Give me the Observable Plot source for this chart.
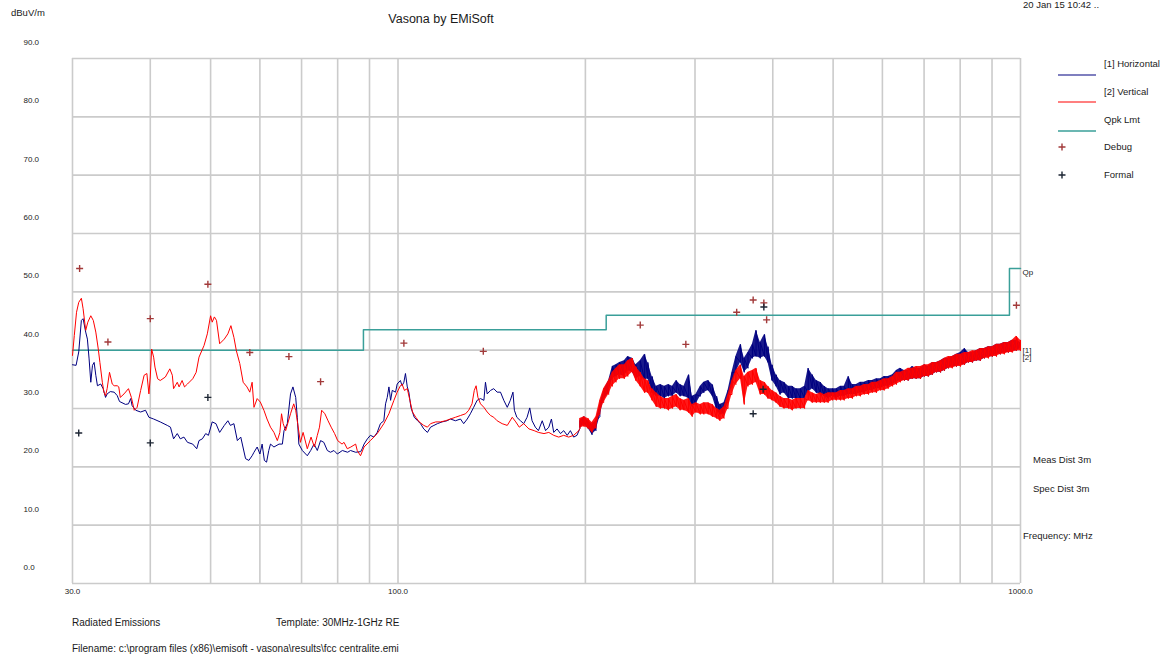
<!DOCTYPE html>
<html><head><meta charset="utf-8">
<script src="https://cdn.jsdelivr.net/npm/d3@7"></script>
<script src="https://cdn.jsdelivr.net/npm/@observablehq/plot@0.6"></script>
<style>html,body{margin:0;padding:0;background:#fff;} #chart{width:1176px;height:657px;overflow:hidden}</style>
</head><body><div id="chart"></div>
<script>
// ---- axes ----
const yTicks = [0, 10, 20, 30, 40, 50, 60, 70, 80, 90];
const xGrid = [30, 40, 50, 60, 70, 80, 90, 100, 200, 300, 400, 500, 600, 700, 800, 900, 1000];
const xLabels = [30, 100, 1000];

// ---- Qpk limit (MHz, dBuV/m) ----
const limitFreq = [30, 88, 216, 960, 1000];
const limitLevel = [40, 43.5, 46, 54, 54];

// ---- [1] Horizontal trace, 30-196 MHz: [MHz, dBuV/m] ----
const horizontalTrace = [[30.0,37.5],[30.4,37.4],[30.7,39.7],[31.0,45.1],[31.2,45.4],[31.5,43.1],[31.7,41.9],[31.9,38.5],[32.1,34.5],[32.3,37.4],[32.5,37.9],[32.7,35.7],[32.9,33.9],[33.3,34.2],[33.6,33.4],[33.9,31.9],[34.1,32.5],[34.5,32.9],[35.0,32.8],[35.4,32.2],[35.7,31.2],[36.5,30.7],[36.9,30.8],[37.2,31.7],[37.4,30.5],[37.9,29.7],[38.6,29.4],[39.3,29.7],[39.8,28.5],[40.5,28.2],[41.5,27.7],[42.6,27.1],[43.1,26.8],[43.6,24.8],[44.2,25.7],[44.7,24.8],[45.3,25.1],[45.9,24.2],[46.8,23.9],[47.5,23.1],[47.9,24.5],[48.5,24.8],[49.1,25.7],[49.6,25.4],[50.3,27.7],[51.0,27.4],[51.7,25.9],[52.6,27.1],[53.3,27.9],[53.8,27.1],[54.5,27.4],[55.2,24.5],[55.9,25.1],[56.9,21.4],[57.6,21.1],[58.3,21.9],[58.7,22.5],[59.4,23.4],[60.0,22.2],[60.5,23.9],[61.0,21.1],[61.5,20.8],[62.0,22.8],[62.4,23.9],[63.2,23.4],[64.4,23.9],[65.2,23.9],[65.6,26.2],[66.4,27.4],[67.2,32.5],[67.8,33.7],[68.5,31.9],[68.9,28.5],[69.3,23.9],[70.2,22.8],[71.5,21.9],[72.4,22.8],[73.3,23.9],[74.2,22.8],[75.1,24.5],[76.0,24.2],[77.0,22.8],[77.9,22.5],[78.9,22.8],[79.9,22.2],[81.4,22.8],[83.0,22.5],[83.9,22.8],[85.5,22.5],[87.1,22.6],[87.6,23.1],[88.2,23.9],[89.3,24.8],[90.3,25.4],[91.5,25.1],[92.6,25.9],[93.7,27.4],[94.9,27.9],[95.5,30.8],[96.1,31.9],[96.7,33.7],[97.3,31.4],[97.9,33.1],[99.1,32.8],[99.7,34.2],[100.9,34.8],[101.5,33.9],[102.2,34.5],[102.8,36.0],[103.5,33.7],[104.1,32.8],[104.9,30.2],[106.2,28.5],[107.5,27.9],[108.7,27.4],[110.0,26.5],[111.5,25.9],[112.8,26.8],[114.2,27.1],[115.7,27.4],[117.7,27.7],[119.9,27.9],[121.4,28.2],[123.7,27.9],[126.0,28.2],[127.5,27.4],[129.2,28.2],[130.7,29.1],[132.3,30.2],[134.0,31.4],[135.7,31.7],[137.4,31.4],[138.2,34.5],[139.1,32.5],[140.8,33.1],[142.5,33.4],[144.3,32.8],[146.1,32.8],[147.9,31.4],[149.8,30.2],[151.5,31.4],[153.0,32.8],[153.8,29.7],[155.2,28.5],[157.3,27.9],[159.2,27.4],[161.2,28.5],[162.8,30.1],[164.2,27.9],[166.2,26.8],[168.1,26.2],[170.5,27.9],[172.6,26.2],[174.7,26.8],[176.4,28.2],[177.9,25.9],[180.1,26.5],[182.4,25.7],[184.6,26.2],[187.0,25.4],[189.2,26.2],[191.5,25.1],[193.9,25.4]];

// ---- [2] Vertical trace, 30-196 MHz: [MHz, dBuV/m] ----
const verticalTrace = [[30.0,39.1],[30.2,42.5],[30.45,46.5],[30.7,48.2],[31.0,48.9],[31.2,47.1],[31.5,43.4],[31.75,44.8],[32.1,45.9],[32.4,45.1],[32.7,43.1],[33.0,40.2],[33.2,37.9],[33.5,34.5],[33.7,32.8],[33.9,32.2],[34.1,33.4],[34.4,36.2],[34.75,34.2],[35.0,33.9],[35.4,33.9],[35.6,33.7],[35.8,31.9],[36.3,32.5],[36.9,33.4],[37.3,31.9],[37.7,29.7],[38.1,30.2],[38.6,33.1],[39.1,35.7],[39.5,36.0],[39.8,32.5],[40.0,35.4],[40.2,40.2],[40.5,38.8],[40.7,37.1],[41.1,35.1],[41.5,34.8],[42.3,35.4],[43.0,36.8],[43.4,35.7],[43.6,33.4],[44.2,34.5],[44.5,33.7],[45.0,34.8],[45.4,33.7],[45.9,34.2],[46.8,35.1],[47.4,36.2],[47.9,38.8],[48.8,40.8],[49.4,42.8],[50.0,45.9],[50.3,44.8],[50.7,45.7],[51.1,45.1],[51.7,41.1],[52.6,41.9],[53.3,42.8],[53.9,44.2],[54.5,42.2],[55.0,39.9],[55.7,37.7],[56.4,34.5],[57.2,33.7],[57.8,32.8],[58.3,34.5],[58.7,30.2],[59.4,31.7],[60.1,31.1],[60.9,29.7],[61.6,28.2],[62.4,26.8],[63.2,25.9],[64.0,24.5],[64.6,25.9],[65.0,29.1],[65.4,27.4],[66.0,26.2],[67.2,29.1],[68.0,30.8],[68.5,29.7],[69.0,27.4],[69.7,24.2],[70.4,25.9],[71.5,23.1],[72.5,25.1],[73.4,23.4],[74.2,25.4],[74.8,26.8],[75.4,29.7],[76.3,29.1],[77.2,27.9],[78.1,26.8],[79.1,25.7],[80.0,24.5],[81.3,23.9],[81.9,24.2],[82.9,23.1],[84.0,23.4],[85.5,23.9],[86.0,22.8],[87.05,21.9],[88.2,23.4],[90.3,24.5],[92.6,25.7],[94.9,27.4],[96.7,29.1],[98.5,31.4],[99.7,32.8],[100.9,33.9],[101.5,34.2],[102.4,33.1],[103.5,33.4],[104.5,31.4],[105.5,29.4],[106.8,28.5],[108.2,27.7],[110.0,27.1],[111.5,26.8],[112.8,27.4],[115.0,27.7],[117.0,27.7],[119.2,27.9],[121.4,28.2],[123.7,28.5],[126.0,28.8],[128.4,29.1],[129.9,29.7],[131.5,30.8],[132.6,33.1],[133.5,33.9],[134.4,31.9],[135.7,30.8],[137.4,30.2],[139.1,29.4],[140.8,28.8],[142.5,28.5],[144.3,27.9],[147.0,27.4],[149.8,27.1],[152.6,28.5],[154.6,27.7],[156.6,26.8],[159.2,27.4],[162.3,26.5],[165.5,26.2],[168.1,25.9],[171.6,25.7],[174.7,25.9],[177.9,25.4],[181.2,25.1],[184.6,25.4],[188.0,25.1],[191.5,25.4],[195.2,26.2]];

// ---- 196-1000 MHz: noisy band, low/high envelope per frequency ----
const noisyFreq = [196,199,202,205,208,211,214,218,221,224,227,231,234,238,241,245,249,252,256,260,264,268,272,276,280,284,288,293,297,301,306,310,315,320,325,329,334,339,344,349,355,360,365,371,376,382,388,393,399,405,411,417,424,430,436,443,450,456,463,470,477,484,491,499,506,514,521,529,537,545,553,561,570,578,587,596,604,613,623,632,641,651,660,670,680,691,701,711,722,733,744,755,766,777,789,801,813,825,837,849,862,875,888,901,915,928,942,956,970,985,1000];
const horLow = [26.6,27.3,26.6,25.5,26.2,28.6,31.4,32.7,35.1,35.5,35.8,35.5,36.5,36.2,35.1,35.5,34.8,35.1,32.7,32.1,32.1,31.7,32.1,32.1,32.7,32.1,32.1,31.7,30.3,30.7,32.1,32.7,33.1,32.1,29.7,29.0,29.0,31.0,33.8,36.2,37.9,36.2,36.9,38.6,38.9,38.6,38.9,37.9,34.8,33.8,32.4,32.7,31.7,31.7,31.7,31.7,31.7,32.7,33.4,32.7,32.4,32.1,31.7,32.1,31.7,32.1,32.1,32.4,32.4,32.4,32.7,32.7,33.1,33.1,33.4,33.4,33.8,33.8,34.1,34.5,34.8,34.8,34.8,35.1,35.1,35.1,35.5,35.5,35.8,36.2,36.2,36.5,36.9,37.2,37.2,37.5,37.5,37.9,37.9,38.2,38.2,38.6,38.9,38.9,39.3,39.3,39.6,39.6,39.9,39.9,40.3];
const horHigh = [27.9,28.6,27.9,27.3,27.9,30.7,33.1,34.8,37.2,37.5,37.9,38.2,38.9,38.6,37.5,38.2,39.3,37.9,35.5,33.8,34.1,33.8,34.1,33.8,34.8,34.1,33.8,35.8,32.1,32.4,33.8,34.5,34.8,34.1,32.1,30.7,31.0,33.1,36.2,38.9,41.0,38.6,39.6,41.0,43.4,41.3,42.7,40.6,37.5,35.8,34.8,34.5,33.8,33.8,33.4,33.4,33.8,36.9,35.8,34.8,34.5,33.8,33.4,33.4,33.4,33.8,33.8,35.5,34.1,34.1,34.5,34.5,34.8,34.8,35.1,35.1,35.5,35.5,35.8,36.5,36.9,36.5,36.5,37.2,36.9,36.9,37.5,37.2,37.9,37.9,38.2,38.6,38.6,38.9,39.3,39.6,40.3,39.6,39.6,39.9,40.3,40.3,40.6,40.6,41.0,41.0,41.3,41.3,41.7,41.7,41.3];
const verLow = [26.6,26.9,26.6,25.9,26.6,29.0,31.0,32.4,33.8,34.5,35.1,35.1,35.5,36.2,34.8,33.8,32.7,32.7,31.4,30.3,30.0,30.0,29.7,30.0,30.3,29.7,29.7,29.3,28.6,29.3,29.0,29.0,29.0,28.6,28.3,27.9,28.3,30.0,32.4,34.1,35.1,30.7,33.8,34.1,34.5,32.4,32.4,31.7,31.4,31.0,30.3,30.0,30.0,29.7,30.0,30.0,30.0,31.4,31.0,31.0,31.0,31.0,31.0,31.4,31.4,31.4,31.4,31.7,31.7,32.1,32.1,32.4,32.4,32.7,32.7,33.1,33.1,33.4,33.8,34.1,34.5,34.8,34.8,35.1,35.1,35.1,35.5,35.5,35.8,36.2,36.2,36.5,36.9,36.9,37.2,37.2,37.5,37.9,37.9,38.2,38.2,38.6,38.6,38.9,38.9,39.3,39.3,39.6,39.6,39.9,39.9];
const verHigh = [28.3,28.6,28.3,27.6,28.6,31.4,33.4,34.8,36.2,36.9,37.5,37.5,38.2,38.6,37.2,36.2,35.1,34.8,33.4,32.7,32.1,31.7,31.7,32.1,32.4,31.7,31.4,31.7,30.7,31.0,30.7,31.0,31.0,30.7,30.0,29.7,30.3,32.4,34.8,36.5,37.5,35.5,36.2,36.5,36.9,34.8,34.5,33.8,33.1,32.7,32.1,31.7,31.7,31.4,31.7,31.7,31.7,33.1,32.7,32.4,32.7,32.4,32.7,32.7,32.7,33.1,33.1,33.4,33.4,33.8,33.8,34.1,34.1,34.5,34.5,34.8,35.1,35.1,35.5,36.2,36.2,36.5,36.9,36.9,37.2,37.2,37.5,37.5,37.9,37.9,38.2,38.6,38.9,38.9,39.3,39.3,39.6,39.6,39.9,39.9,40.3,40.3,40.6,40.6,41.0,41.0,41.3,41.3,41.7,42.4,41.7];

// ---- markers ----
const debugFreq = [30.8, 34.2, 40.0, 49.5, 57.8, 66.8, 75.1, 102.2, 137.1, 245, 290, 350, 372, 387, 391, 985];
const debugLevel = [54.0, 41.4, 45.4, 51.3, 39.6, 38.9, 34.6, 41.2, 39.8, 44.3, 41.0, 46.5, 48.6, 48.1, 45.2, 47.7];
const formalFreq = [30.7, 40.0, 49.5, 372, 386, 387];
const formalLevel = [25.8, 24.1, 31.9, 29.1, 33.3, 47.4];

// ---- build tables ----
function sawtooth(freq, lo, hi) {
  const out = [];
  const n = Math.min(freq.length, lo.length, hi.length);
  for (let i = 0; i < n; i++) { out.push({f: freq[i], v: lo[i]}); out.push({f: freq[i], v: hi[i]}); }
  return out;
}
function band(freq, lo, hi) {
  const n = Math.min(freq.length, lo.length, hi.length);
  return freq.slice(0, n).map((f, i) => ({f, lo: lo[i], hi: hi[i]}));
}
const horPts = horizontalTrace.map(([f, v]) => ({f, v})).concat(sawtooth(noisyFreq, horLow, horHigh));
const verPts = verticalTrace.map(([f, v]) => ({f, v})).concat(sawtooth(noisyFreq, verLow, verHigh));
const horBand = band(noisyFreq, horLow, horHigh);
const verBand = band(noisyFreq, verLow, verHigh);
const limitPts = limitFreq.map((f, i) => ({f, v: limitLevel[i]}));
const debugPts = debugFreq.map((f, i) => ({f, v: debugLevel[i]}));
const formalPts = formalFreq.map((f, i) => ({f, v: formalLevel[i]}));
const horEnd = (horLow[horLow.length - 1] + horHigh[horHigh.length - 1]) / 2;
const verEnd = (verLow[verLow.length - 1] + verHigh[verHigh.length - 1]) / 2;

const plusSymbol = {draw(ctx) { const r = 3.5; ctx.moveTo(-r, 0); ctx.lineTo(r, 0); ctx.moveTo(0, -r); ctx.lineTo(0, r); }};

const C_H = "#000080", C_V = "#ff0000", C_L = "#3a9f99", C_D = "#a23a3a", C_F = "#1c2533", TXT = "#1a1a1a";
const FONT = "'Liberation Sans', Arial, Helvetica, sans-serif";

const svg = Plot.plot({
  width: 1176, height: 657,
  marginLeft: 72, marginRight: 156, marginTop: 58, marginBottom: 74,
  x: {type: "log", domain: [30, 1000], axis: null},
  y: {domain: [0, 90], axis: null},
  style: {fontFamily: FONT, background: "#fff", color: TXT, overflow: "visible"},
  marks: [
    Plot.gridX(xGrid, {stroke: "#cbcbcb", strokeOpacity: 1, strokeWidth: 1.6}),
    Plot.gridY(yTicks, {stroke: "#cbcbcb", strokeOpacity: 1, strokeWidth: 1.6}),
    Plot.text(yTicks, {x: () => 30, y: d => d, text: d => d.toFixed(1), dx: -49, dy: -16, textAnchor: "start", fontSize: 8, fill: TXT}),
    Plot.text(xLabels, {x: d => d, y: () => 0, text: d => d.toFixed(1), dy: 8, fontSize: 8, fill: TXT}),
    Plot.line(limitPts, {x: "f", y: "v", curve: "step-after", stroke: C_L, strokeWidth: 1.5}),
    Plot.areaY(horBand, {x: "f", y1: "lo", y2: "hi", fill: C_H, fillOpacity: 0.9}),
    Plot.line(horPts, {x: "f", y: "v", stroke: C_H, strokeWidth: 1}),
    Plot.areaY(verBand, {x: "f", y1: "lo", y2: "hi", fill: C_V, fillOpacity: 0.9}),
    Plot.line(verPts, {x: "f", y: "v", stroke: C_V, strokeWidth: 1}),
    Plot.dot(debugPts, {x: "f", y: "v", symbol: plusSymbol, fill: "none", stroke: C_D, strokeWidth: 1.4, r: 4}),
    Plot.dot(formalPts, {x: "f", y: "v", symbol: plusSymbol, fill: "none", stroke: C_F, strokeWidth: 1.4, r: 4}),
    Plot.text([{f: 1000, v: limitLevel[limitLevel.length - 1]}], {x: "f", y: "v", text: () => "Qp", dx: 2, dy: 4, textAnchor: "start", fontSize: 8, fill: TXT}),
    Plot.text([{f: 1000, v: horEnd}], {x: "f", y: "v", text: () => "[1]", dx: 2, dy: 5, textAnchor: "start", fontSize: 8, fill: TXT}),
    Plot.text([{f: 1000, v: verEnd}], {x: "f", y: "v", text: () => "[2]", dx: 2, dy: 12, textAnchor: "start", fontSize: 8, fill: TXT})
  ]
});
document.getElementById("chart").appendChild(svg);

// ---- annotations & legend ----
const s = d3.select(svg);
function txt(x, y, str, size, anchor) {
  s.append("text").attr("x", x).attr("y", y).attr("dy", "0.35em")
    .attr("text-anchor", anchor || "start").attr("font-size", size)
    .attr("font-family", FONT).attr("fill", TXT).text(str);
}
txt(11, 13, "dBuV/m", 9.5);
txt(441, 19, "Vasona by EMiSoft", 12.5, "middle");
txt(1023, 5, "20 Jan 15 10:42 ..", 9.5);

const legendLines = [["[1] Horizontal", C_H, 64, 75], ["[2] Vertical", C_V, 92, 102], ["Qpk Lmt", C_L, 120, 131]];
legendLines.forEach(([label, color, ty, ly]) => {
  s.append("line").attr("x1", 1058).attr("x2", 1096).attr("y1", ly).attr("y2", ly)
    .attr("stroke", color).attr("stroke-width", color === C_L ? 1.5 : 1.2);
  txt(1104, ty, label, 9.5);
});
[["Debug", C_D, 147], ["Formal", C_F, 175]].forEach(([label, color, y]) => {
  s.append("path").attr("d", "M-3.5,0H3.5M0,-3.5V3.5").attr("transform", `translate(1062,${y})`)
    .attr("stroke", color).attr("stroke-width", 1.4).attr("fill", "none");
  txt(1104, y, label, 9.5);
});

txt(1033, 460, "Meas Dist 3m", 9.5);
txt(1033, 489, "Spec Dist 3m", 9.5);
txt(1023, 536, "Frequency: MHz", 9.5);
txt(72, 622, "Radiated Emissions", 10);
txt(276, 622, "Template: 30MHz-1GHz RE", 10);
txt(72, 648, "Filename: c:\\program files (x86)\\emisoft - vasona\\results\\fcc centralite.emi", 10);
</script></body></html>
